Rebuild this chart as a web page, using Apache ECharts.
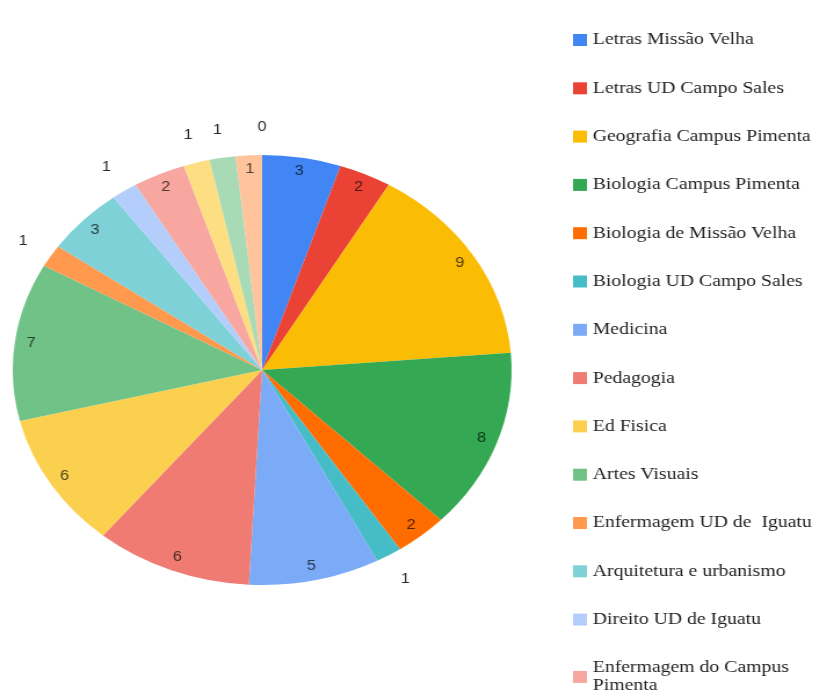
<!DOCTYPE html>
<html>
<head>
<meta charset="utf-8">
<script src="https://cdn.jsdelivr.net/npm/echarts@6/dist/echarts.min.js"></script>
<style>
  html, body { margin: 0; padding: 0; background: #fff; overflow: hidden; }
  #wrap { width: 826px; height: 697px; overflow: hidden; }
  #chart { width: 712px; height: 697px; transform: scaleX(1.16); transform-origin: 0 0; }
</style>
</head>
<body>
<div id="wrap"><div id="chart"></div></div>
<script>
const categories = [
  'Letras Missão Velha',
  'Letras UD Campo Sales',
  'Geografia Campus Pimenta',
  'Biologia Campus Pimenta',
  'Biologia de Missão Velha',
  'Biologia UD Campo Sales',
  'Medicina',
  'Pedagogia',
  'Ed Fisica',
  'Artes Visuais',
  'Enfermagem UD de  Iguatu',
  'Arquitetura e urbanismo',
  'Direito UD de Iguatu',
  'Enfermagem do Campus Pimenta',
  'Curso 15',
  'Curso 16',
  'Curso 17',
  'Curso 18'
];
const values = [3, 2, 9, 8, 2, 1, 5, 6, 6, 7, 1, 3, 1, 2, 1, 1, 1, 0];
const legendNames = categories.slice(0, 14);

// styles (kept separate from data)
const colors = ['#4285F4', '#EA4335', '#FBBC04', '#34A853', '#FF6D01', '#46BDC6',
  '#7BAAF7', '#F07B72', '#FCD04F', '#71C287', '#FF994D', '#7ED1D7',
  '#B3CEFB', '#F7A7A0', '#FDDE82', '#A8DAB5', '#FFC49C', '#A3E1E6'];
const labelOutside = [false, false, false, false, false, true, false, false, false,
  false, true, false, true, false, true, true, false, true];

function darken(hex, k) {
  const n = parseInt(hex.slice(1), 16);
  const r = Math.round(((n >> 16) & 255) * k);
  const g = Math.round(((n >> 8) & 255) * k);
  const b = Math.round((n & 255) * k);
  return 'rgb(' + r + ',' + g + ',' + b + ')';
}

const CENTER = [226, 370];
const R = 215;

const baseData = categories.map((name, i) => ({
  name: name, value: values[i], itemStyle: { color: colors[i] }
}));
const innerLabelData = categories.map((name, i) => ({
  name: name, value: values[i],
  itemStyle: { color: 'rgba(0,0,0,0)' },
  label: { show: !labelOutside[i], color: darken(colors[i], 0.32) }
}));
const outerLabelData = categories.map((name, i) => ({
  name: name, value: values[i],
  itemStyle: { color: 'rgba(0,0,0,0)' },
  label: { show: labelOutside[i], color: '#2a2a2a' }
}));

const labelFont = { fontFamily: 'Liberation Sans, Arial, sans-serif', fontSize: 14 };

const chart = echarts.init(document.getElementById('chart'), null, { renderer: 'canvas' });
chart.setOption({
  animation: false,
  color: colors,
  legend: {
    data: legendNames,
    orient: 'vertical',
    left: 494,
    top: 31,
    height: 680,
    padding: 0,
    itemWidth: 12,
    itemHeight: 12,
    itemGap: 30.3,
    icon: 'rect',
    selectedMode: false,
    textStyle: {
      fontFamily: 'Liberation Serif, Times New Roman, serif',
      fontSize: 17,
      lineHeight: 18,
      color: '#1e1e1e',
      width: 198,
      overflow: 'break'
    }
  },
  series: [
    {
      type: 'pie',
      center: CENTER,
      radius: R,
      startAngle: 90,
      clockwise: true,
      silent: true,
      emphasis: { disabled: true },
      label: { show: false },
      labelLine: { show: false },
      itemStyle: { borderWidth: 0 },
      data: baseData
    },
    {
      type: 'pie',
      center: CENTER,
      radius: [181, R],
      startAngle: 90,
      clockwise: true,
      silent: true,
      emphasis: { disabled: true },
      label: Object.assign({ position: 'inside', formatter: '{c}' }, labelFont),
      labelLine: { show: false },
      itemStyle: { borderWidth: 0 },
      data: innerLabelData
    },
    {
      type: 'pie',
      center: CENTER,
      radius: [R, 265],
      startAngle: 90,
      clockwise: true,
      silent: true,
      emphasis: { disabled: true },
      label: Object.assign({ position: 'inside', formatter: '{c}' }, labelFont),
      labelLine: { show: false },
      itemStyle: { borderWidth: 0 },
      data: outerLabelData
    }
  ]
});
</script>
</body>
</html>
